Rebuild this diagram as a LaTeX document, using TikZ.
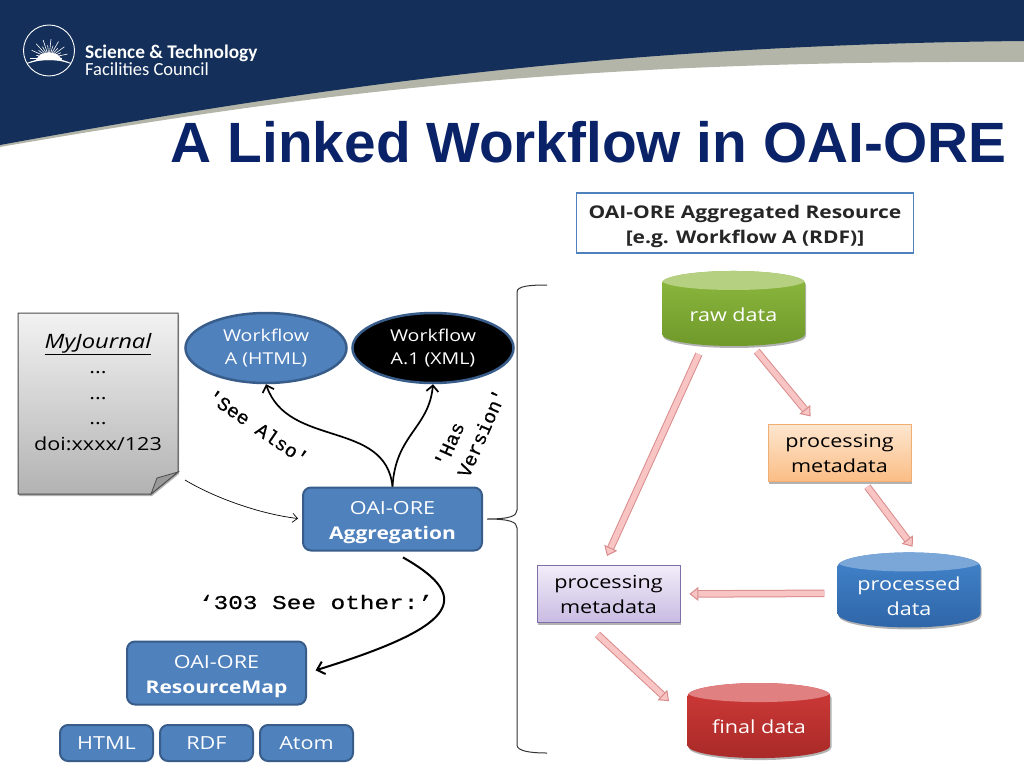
\documentclass[tikz,border=0pt]{standalone}
\usepackage{fontspec}
\setmainfont[FakeStretch=1.2]{Open Sans}
\newfontfamily\titlefont{Liberation Sans}
\newfontfamily\logofont{Carlito}
\newfontfamily\labelfont[FakeBold=.6]{Liberation Mono}
\usepackage{xcolor}
\usetikzlibrary{positioning,shapes,shadows,arrows.meta}
\definecolor{navy}{HTML}{14305A}
\definecolor{swoosh}{HTML}{B4B5A9}
\definecolor{titleblue}{HTML}{0A2268}
\definecolor{boxblue}{HTML}{4F81BD}
\definecolor{boxedge}{HTML}{385D8A}
\definecolor{pinkfill}{HTML}{F9C4C4}
\definecolor{pinkedge}{HTML}{D98C8C}
\definecolor{greentop}{HTML}{8DB83F}
\definecolor{greenlow}{HTML}{6F9A2A}
\definecolor{greenlid}{HTML}{B5D080}
\definecolor{bluetop}{HTML}{4384CC}
\definecolor{bluelow}{HTML}{2F66A8}
\definecolor{bluelid}{HTML}{7BA7D8}
\definecolor{redtop}{HTML}{D03A38}
\definecolor{redlow}{HTML}{A82A28}
\definecolor{redlid}{HTML}{E08080}
\definecolor{orangetop}{HTML}{FDE6CF}
\definecolor{orangelow}{HTML}{FBBD85}
\definecolor{orangeedge}{HTML}{F0AE72}
\definecolor{purpletop}{HTML}{F1EDF9}
\definecolor{purplelow}{HTML}{C9BBE2}
\definecolor{purpleedge}{HTML}{8070A8}
\newcommand{\lowstrut}{\rule{0pt}{20pt}}
\begin{document}
\begin{tikzpicture}[x=1pt,y=-1pt,
	softshadow/.style = {drop shadow={shadow xshift=1pt,shadow yshift=-2pt,opacity=.3,fill=black}},
	bluebox/.style = {draw=boxedge, fill=boxblue, line width=2pt, rounded corners=8pt, text=white, align=center, font=\fontsize{18}{25}\selectfont, inner sep=0pt},
	blueoval/.style = {ellipse, draw=boxedge, fill=boxblue, line width=2.5pt, text=white, align=center, font=\fontsize{16.3}{22.5}\selectfont, minimum width=161pt, minimum height=70pt, inner sep=0pt},
	metabox/.style n args = {3}{draw=#3, top color=#1, bottom color=#2, line width=.8pt, align=center, minimum width=143pt, minimum height=57pt, inner sep=0pt, font=\fontsize{18}{25}\selectfont, softshadow},
	dbase/.style n args = {3}{cylinder, shape border rotate=90, aspect=.27, minimum width=143pt, minimum height=75pt, inner sep=0pt, top color=#1, bottom color=#2, align=center, text=white, font=\fontsize{18}{25}\selectfont, softshadow,
		path picture={\fill[#3] (path picture bounding box.north) ++(0,9.5) ellipse [x radius=71.5, y radius=9.5];}},
	flowarrow/.style = {draw=pinkedge, double=pinkfill, double distance=5.5pt, line width=1pt, -{Triangle[length=9pt,width=14pt,fill=pinkfill]}},
	linkarrow/.style = {line width=1.7pt, -{Straight Barb[length=6pt,width=12pt]}},
	monolabel/.style = {font=\labelfont\fontsize{19.5}{25}\selectfont, align=left}]
	\useasboundingbox (0,0) rectangle (1024,768);
	\fill[white] (0,0) rectangle (1024,768);
	\fill[swoosh] (0,147) .. controls (300,95) and (560,60) .. (1024,62) -- (1024,30) -- (0,30) -- cycle;
	\fill[navy] (0,145) .. controls (300,90) and (600,45) .. (1024,41) -- (1024,0) -- (0,0) -- cycle;
	\draw[white, line width=.9pt] (49,50.5) circle [radius=25.5];
	\foreach \a in {0,12,...,180} \draw[white, line width=.6pt] (49,58) -- ++(-\a:{13+6*mod(\a/12,2)});
	\fill[white] (36,60) .. controls (40,50) and (58,50) .. (62,60) -- cycle;
	\fill[white] (30,63) .. controls (40,56) and (58,56) .. (68,63) .. controls (58,59) and (40,59) .. (30,63);
	\draw[white, line width=.9pt] (27,63.5) .. controls (38,58) and (60,58) .. (71,63.5);
	\node (logoa) [anchor=base west, text=white, inner sep=0pt, font=\logofont\bfseries\fontsize{19.3}{24}\selectfont] at (85,59) {Science \& Technology};
	\node (logob) [anchor=base west, text=white, inner sep=0pt, font=\logofont\fontsize{18.5}{24}\selectfont] at (85,75) {Facilities Council};
	\node (title) [text=titleblue, inner sep=0pt, font=\titlefont\bfseries\fontsize{56.8}{60}\selectfont] at (588.5,142) {A Linked Workflow in OAI-ORE};
	\path[draw=black!70, line width=1pt, top color=black!5, bottom color=black!30, softshadow] (18,313) -- (178,313) -- (178,472) -- (151,494) -- (18,494) -- cycle;
	\path[draw=black!70, line width=.8pt, fill=black!40] (178,472) -- (157,478) -- (151,494) -- cycle;
	\node (journal) [align=center, inner sep=0pt, font=\fontsize{18}{25.5}\selectfont] at (98,392) {\underline{\fontsize{19.8}{25.5}\selectfont\itshape MyJournal}\\...\\...\\...\\doi:xxxx/123};
	\node[blueoval] (wfa) at (266,348) {Workflow\\A (HTML)};
	\node[blueoval, fill=black] (wfb) at (433,348) {Workflow\\A.1 (XML)};
	\node[bluebox, minimum width=179pt, minimum height=63pt] (agg) at (392.5,519) {\lowstrut OAI-ORE\\\fontsize{17.5}{25}\selectfont\textbf{Aggregation}};
	\node[bluebox, minimum width=179pt, minimum height=63pt] (rmap) at (216.5,673) {\lowstrut OAI-ORE\\\fontsize{17.5}{25}\selectfont\textbf{ResourceMap}};
	\node[bluebox, minimum width=93pt, minimum height=36pt] (html) at (106.5,743) {HTML};
	\node[bluebox, minimum width=93pt, minimum height=36pt] (rdf) [right=5pt of html] {RDF};
	\node[bluebox, minimum width=93pt, minimum height=36pt] (atom) [right=5pt of rdf] {Atom};
	\node (aggres) [draw=boxblue, line width=1.8pt, fill=white, align=center, minimum width=337pt, minimum height=60pt, inner sep=0pt, font=\bfseries\fontsize{17.5}{25}\selectfont, text=black!85] at (745,223) {\lowstrut OAI-ORE Aggregated Resource\\{}[e.g. Workflow A (RDF)]};
	\node[dbase={greentop}{greenlow}{greenlid}] (raw) at (733.5,314.5) {raw data};
	\node[metabox={orangetop}{orangelow}{orangeedge}] (procmeta) at (839.5,453) {processing\\metadata};
	\node[dbase={bluetop}{bluelow}{bluelid}] (procdata) at (909,597) {\raisebox{-5pt}[0pt][0pt]{\begin{tabular}[c]{@{}c@{}}processed\\data\end{tabular}}};
	\node[metabox={purpletop}{purplelow}{purpleedge}] (finalmeta) at (608.5,594) {processing\\metadata};
	\node[dbase={redtop}{redlow}{redlid}] (final) at (759,727) {final data};
	\draw[linkarrow] (agg.north) .. controls +(-7,-67) and +(22,64) .. (wfa.south);
	\draw[linkarrow] (agg.north) .. controls +(3,-52) and +(-4,44) .. (wfb.south);
	\draw[line width=.7pt, -{Straight Barb[length=5pt,width=9pt]}, shorten >=4pt] (185,480) .. controls (215,498) and (260,514) .. (agg.west);
	\draw[line width=2pt, -{Straight Barb[length=7pt,width=13pt]}, shorten <=12pt, shorten >=9pt] (agg.south) .. controls +(85,48) and +(145,-45) .. (rmap.east);
	\draw[flowarrow, shorten <=10pt, shorten >=10pt] (raw.225) -- (finalmeta.101);
	\draw[flowarrow, shorten <=7pt, shorten >=10pt] (raw.301) -- (procmeta.128);
	\draw[flowarrow, shorten <=6pt, shorten >=7pt] (procmeta.310) -- (procdata.80);
	\draw[flowarrow, shorten <=13pt, shorten >=9pt] (procdata.177) -- (finalmeta.east);
	\draw[flowarrow, shorten <=17pt, shorten >=25pt] (finalmeta.231) -- (final.173);
	\draw[black!80, line width=1pt] (547,285) .. controls (530,285) and (517,286) .. (517,292) -- (517,510) .. controls (517,516) and (510,519) .. (487,519) .. controls (510,519) and (517,522) .. (517,528) -- (517,745) .. controls (517,751) and (530,753) .. (547,753);
	\node (seealso) [monolabel, rotate=-34.5] at (258,427) {'See Also'};
	\node (hasversion) [monolabel, rotate=66] at (470,428) {'Has\\Version'};
	\node (seeother) [monolabel, transform shape, xscale=1.25] at (316,602) {‘303 See other:’};
\end{tikzpicture}
\end{document}
